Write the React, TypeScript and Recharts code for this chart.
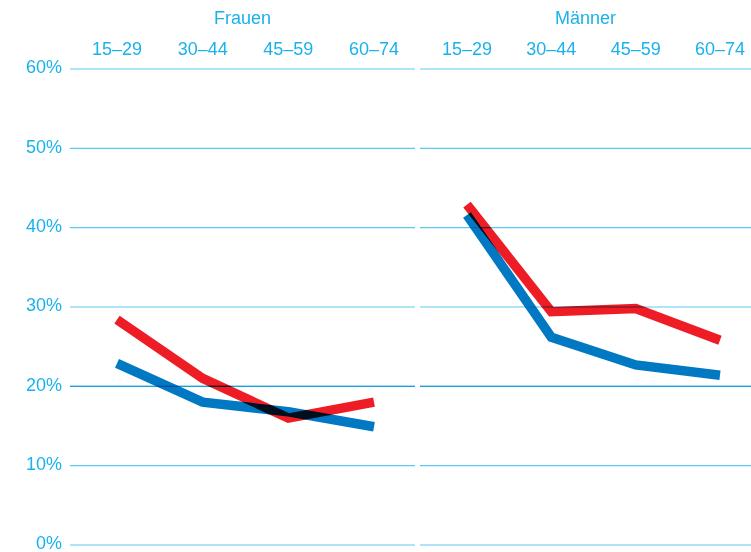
import React from 'react';
import { LineChart, Line, XAxis, YAxis, CartesianGrid, ReferenceLine } from 'recharts';

const ageGroups = ['15–29', '30–44', '45–59', '60–74'];
const yTicks = [0, 10, 20, 30, 40, 50, 60];

const frauenRed = [28.4, 21.0, 16.0, 18.0];
const frauenBlue = [22.9, 18.0, 16.8, 14.9];
const maennerRed = [42.9, 29.4, 29.8, 25.8];
const maennerBlue = [41.6, 26.2, 22.7, 21.4];

const TEXT = '#1ab2ec';
const GRID = '#5cc9f2';
const GRID_DARK = '#1d9fd9';
const RED = '#ee1d25';
const BLUE = '#0079c2';
const FONT = '"Liberation Sans", Arial, Helvetica, sans-serif';

const build = (red: number[], blue: number[]) =>
  ageGroups.map((g, i) => ({ group: g, red: red[i], blue: blue[i] }));

const frauenData = build(frauenRed, frauenBlue);
const maennerData = build(maennerRed, maennerBlue);

const tickStyle = { fill: TEXT, fontSize: 18, fontFamily: FONT };

interface PanelProps {
  title: string;
  data: { group: string; red: number; blue: number }[];
  width: number;
  showY: boolean;
  marginLeft: number;
  padding: { left: number; right: number };
}

const Panel: React.FC<PanelProps> = ({ title, data, width, showY, marginLeft, padding }) => (
  <LineChart
    width={width}
    height={552}
    data={data}
    margin={{ top: 9, right: showY ? 1 : 0, left: marginLeft, bottom: 7 }}
  >
    <CartesianGrid vertical={false} stroke={GRID} strokeWidth={1.2} />
    <XAxis
      dataKey="group"
      orientation="top"
      height={60}
      axisLine={false}
      tickLine={false}
      tickMargin={8}
      interval={0}
      padding={padding}
      tick={tickStyle}
      label={{ value: title, position: 'insideTop', offset: 2, fill: TEXT, fontSize: 18, fontFamily: FONT }}
    />
    <YAxis
      hide={!showY}
      width={70}
      domain={[0, 60]}
      ticks={yTicks}
      interval={0}
      axisLine={false}
      tickLine={false}
      tickFormatter={(v: number) => `${v}%`}
      tick={{ ...tickStyle, dy: -2 }}
    />
    <ReferenceLine y={20} stroke={GRID_DARK} strokeWidth={1.2} />
    <Line
      dataKey="blue"
      stroke={BLUE}
      strokeWidth={9.5}
      strokeLinejoin="miter"
      strokeLinecap="butt"
      dot={false}
      activeDot={false}
      isAnimationActive={false}
      style={{ mixBlendMode: 'multiply' }}
    />
    <Line
      dataKey="red"
      stroke={RED}
      strokeWidth={9.5}
      strokeLinejoin="miter"
      strokeLinecap="butt"
      dot={false}
      activeDot={false}
      isAnimationActive={false}
      style={{ mixBlendMode: 'multiply' }}
    />
  </LineChart>
);

export default function App() {
  return (
    <div style={{ position: 'absolute', left: 0, top: 0, width: 751, height: 552, background: '#fff', overflow: 'hidden' }}>
      <div style={{ position: 'absolute', left: 0, top: 0 }}>
        <Panel title="Frauen" data={frauenData} width={416} showY marginLeft={0} padding={{ left: 47, right: 41 }} />
      </div>
      <div style={{ position: 'absolute', left: 416, top: 0 }}>
        <Panel title="Männer" data={maennerData} width={335} showY={false} marginLeft={4} padding={{ left: 47, right: 31 }} />
      </div>
    </div>
  );
}
